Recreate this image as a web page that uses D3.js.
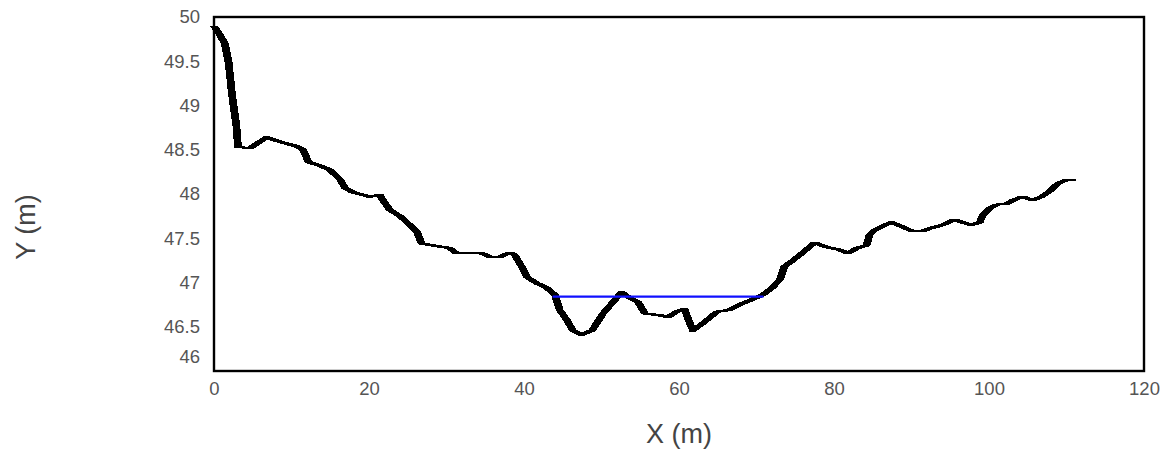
<!DOCTYPE html>
<html>
<head>
<meta charset="utf-8">
<script src="https://cdn.jsdelivr.net/npm/d3@7"></script>
<style>
  body { margin: 0; background: #fff; }
  svg { display: block; }
</style>
</head>
<body>
<div id="chart-area"></div>
<script>
// ground profile (X in m, Y in m)
var profX = [0, 0.6, 1.4, 1.9, 2.3, 2.9, 3.1, 4.7, 5.7, 6.8, 8.9, 10.7, 11.5, 12.2, 13.7, 15.0, 16.3, 16.9, 17.9, 20.1,
  21.4, 21.8, 22.7, 24.0, 25.4, 26.2, 26.8, 28.8, 30.4, 31.3, 34.3, 35.6, 36.9, 38.2, 38.8, 39.7, 40.4, 41.7, 42.9, 44.0,
  44.6, 45.5, 46.3, 47.4, 48.8, 50.2, 51.5, 52.6, 53.4, 54.7, 55.6, 57.5, 58.6, 59.7, 60.7, 61.4, 61.8, 63.1, 64.9, 66.5,
  67.8, 69.5, 70.8, 72.0, 73.0, 73.6, 74.7, 76.0, 77.5, 79.0, 80.7, 81.8, 83.0, 84.2, 84.6, 85.2, 86.3, 87.4, 88.8, 90.1,
  91.4, 92.3, 94.0, 95.5, 96.6, 97.7, 98.8, 99.2, 100.1, 101.0, 102.3, 103.1, 104.3, 105.6, 106.8, 107.8, 108.9, 110.0, 110.8];
var profY = [49.9, 49.82, 49.7, 49.48, 49.14, 48.76, 48.53, 48.52, 48.58, 48.64, 48.58, 48.54, 48.5, 48.36, 48.32, 48.27, 48.16, 48.07, 48.02, 47.97,
  47.99, 47.93, 47.82, 47.75, 47.64, 47.57, 47.44, 47.41, 47.39, 47.33, 47.34, 47.29, 47.29, 47.34, 47.31, 47.18, 47.06, 46.99, 46.94, 46.86,
  46.69, 46.58, 46.46, 46.41, 46.46, 46.65, 46.78, 46.89, 46.84, 46.78, 46.65, 46.63, 46.61, 46.67, 46.70, 46.54, 46.46, 46.54, 46.67, 46.69,
  46.75, 46.81, 46.86, 46.94, 47.03, 47.18, 47.25, 47.34, 47.45, 47.40, 47.37, 47.33, 47.39, 47.42, 47.54, 47.59, 47.64, 47.68, 47.63, 47.58,
  47.58, 47.61, 47.65, 47.71, 47.68, 47.65, 47.68, 47.76, 47.84, 47.88, 47.89, 47.93, 47.97, 47.93, 47.97, 48.03, 48.12, 48.16, 48.16];

// water level
var waterX = [43.7, 70.9];
var waterY = [46.84, 46.84];

var xTicks = [0, 20, 40, 60, 80, 100, 120];
var yTicks = [46, 46.5, 47, 47.5, 48, 48.5, 49, 49.5, 50];

var margin = {top: 17, right: 18, bottom: 79, left: 214};
var width = 1162 - margin.left - margin.right,
    height = 450 - margin.top - margin.bottom;

var x = d3.scaleLinear().domain([0, 120]).range([0, width]);
var y = d3.scaleLinear().domain([46, 50]).range([height, 0]);

var svg = d3.select("#chart-area").append("svg")
    .attr("width", 1162)
    .attr("height", 450)
    .style("font-family", "'Liberation Sans', Arial, sans-serif");

// wide flat pen look of the original
var defs = svg.append("defs");
defs.append("filter")
    .attr("id", "pen")
    .attr("x", "-5%").attr("y", "-5%")
    .attr("width", "110%").attr("height", "110%")
  .append("feMorphology")
    .attr("operator", "dilate")
    .attr("radius", "3 0.4");

var g = svg.append("g")
    .attr("transform", "translate(" + margin.left + "," + margin.top + ")");

var xAxisCall = d3.axisBottom(x).tickValues(xTicks).tickSize(0).tickPadding(11);
var yAxisCall = d3.axisLeft(y).tickValues(yTicks).tickSize(0).tickPadding(14)
    .tickFormat(function(d){ return d; });

var xAxisGroup = g.append("g")
    .attr("transform", "translate(0," + height + ")")
    .call(xAxisCall);
var yAxisGroup = g.append("g").call(yAxisCall);

[xAxisGroup, yAxisGroup].forEach(function(ax){
  ax.select(".domain").remove();
  ax.selectAll("text")
    .attr("font-size", "18.5px")
    .attr("fill", "#555");
});
// bottom label sits a bit above its tick
yAxisGroup.selectAll(".tick text")
    .filter(function(d){ return d === 46; })
    .attr("dy", "-0.45em");

// profile line
var line = d3.line()
    .x(function(d){ return x(d[0]); })
    .y(function(d){ return y(d[1]); });

g.append("path")
    .datum(d3.zip(profX, profY))
    .attr("d", line)
    .attr("fill", "none")
    .attr("stroke", "#000")
    .attr("stroke-width", 1.8)
    .attr("shape-rendering", "crispEdges")
    .attr("filter", "url(#pen)");

g.append("path")
    .datum(d3.zip(waterX, waterY))
    .attr("d", line)
    .attr("fill", "none")
    .attr("stroke", "#1010ff")
    .attr("stroke-width", 2.4);

// frame
g.append("rect")
    .attr("width", width)
    .attr("height", height)
    .attr("fill", "none")
    .attr("stroke", "#000")
    .attr("stroke-width", 2.4);

g.append("text")
    .attr("x", width / 2)
    .attr("y", height + 72)
    .attr("font-size", "27px")
    .attr("fill", "#444")
    .attr("text-anchor", "middle")
    .text("X (m)");

g.append("text")
    .attr("transform", "rotate(-90)")
    .attr("x", -(227 - margin.top))
    .attr("y", -margin.left + 35)
    .attr("font-size", "27px")
    .attr("fill", "#444")
    .attr("text-anchor", "middle")
    .text("Y (m)");
</script>
</body>
</html>
